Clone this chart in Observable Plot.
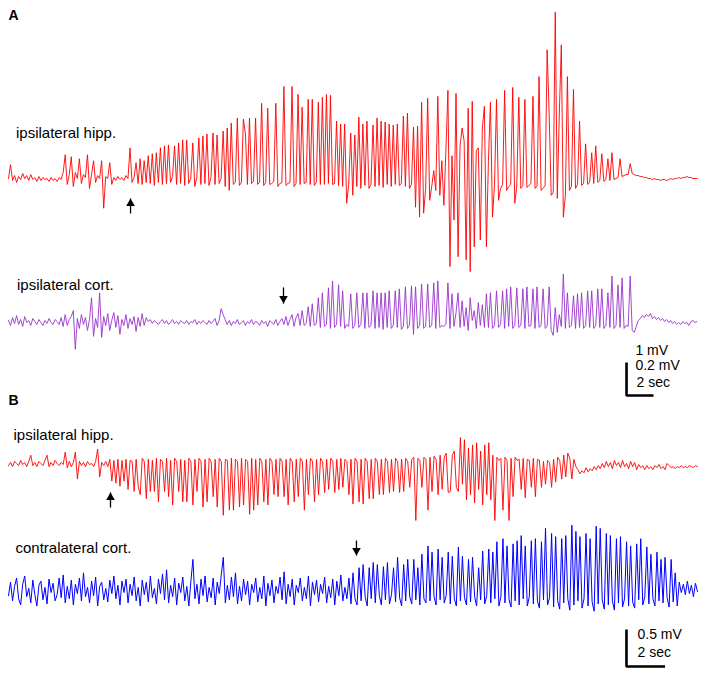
<!DOCTYPE html>
<html><head><meta charset="utf-8">
<script src="https://cdn.jsdelivr.net/npm/d3@7"></script>
<script src="https://cdn.jsdelivr.net/npm/@observablehq/plot@0.6"></script>
<style>
body{margin:0;background:#fff;}
#wrap{position:relative;width:708px;height:677px;}
#wrap svg{position:absolute;left:0;}
</style></head><body><div id="wrap"></div>
<script>
// Sampling intervals (s)
const dtA = 0.15, dtB = 0.105;

// Panel A, ipsilateral hippocampus (µV)
const hippA = [60,480,0,150,-60,120,30,210,60,150,0,180,30,90,-30,120,0,90,30,60,-30,90,0,60,-30,90,30,240,780,-120,180,720,-180,240,60,660,-90,180,90,780,-240,180,600,-60,150,60,600,-840,120,60,540,-120,90,0,120,30,90,0,150,60,990,
-60,90,540,-90,660,-120,600,-60,750,-90,810,-150,840,-60,990,-120,1050,-90,1080,-60,120,1050,-120,1140,-90,1230,-150,1230,-90,60,1140,-180,90,1290,-120,1350,-90,1410,-150,90,1440,-120,1380,-90,60,1500,-180,1590,-300,
1740,-120,-60,1890,-150,-60,1860,1410,-120,1890,-90,-30,1890,-120,-60,2340,-150,-60,2190,-120,-90,-30,2340,-180,-90,-60,2850,-150,-90,-60,2850,-180,-90,2610,-120,2220,-90,-60,2460,-120,2460,-150,-60,2370,-120,2520,-120,2610,-90,2580,-120,-90,1800,-150,1710,-180,1710,-690,-120,1440,-450,1380,-180,1920,-240,1710,-150,1800,-240,-120,1680,-180,1890,-150,1800,-210,1770,-120,1710,-180,1680,-120,1710,-150,-90,1950,-180,2040,-240,-120,1620,-810,1650,-1110,2370,-990,-240,2490,-600,-180,300,-300,2550,-450,600,-750,900,2730,-2610,750,-1200,2640,-2310,1050,1590,1200,-2400,2190,-2760,2400,-2010,
900,990,-1800,1590,2250,-2010,600,2370,-1110,-150,2460,-600,-240,-120,2730,-300,-180,-120,2820,-690,-180,2520,-240,-150,2460,-210,-150,-90,2550,-240,-180,3150,-300,-240,-150,3960,2010,-450,-360,5100,-540,2010,4110,-1110,-450,3150,-300,-180,2760,-240,-120,1800,-150,-90,1110,-120,-60,840,-90,1050,-60,0,810,-30,30,660,0,840,30,60,90,660,120,150,180,180,510,210,180,150,150,120,120,90,90,60,60,30,60,30,30,0,30,30,0,30,60,30,60,60,90,60,90,90,120,90,90,60,60,60];

// Panel A, ipsilateral cortex (µV)
const cortA = [12,-18,30,-6,42,-12,18,-24,36,0,12,-18,24,6,-12,18,0,-18,12,-6,24,0,-12,18,6,-12,30,-24,48,-18,
18,36,72,-162,24,-36,48,-12,30,-48,18,150,-84,24,-30,180,-90,36,-18,54,-48,12,60,-30,42,-72,18,-18,48,-36,
24,-12,36,-54,30,-24,54,-18,30,6,18,-6,12,0,-12,6,18,-6,12,-12,0,18,-6,6,-12,12,0,-6,12,-12,
6,0,18,-12,6,-6,12,0,-12,12,-6,6,24,-18,12,84,48,18,-12,12,-18,6,-6,18,-12,0,12,-18,6,-6,
18,-12,6,0,-18,12,-6,6,-24,12,0,-12,18,-18,6,24,-12,36,-18,18,48,-24,30,54,-18,72,-18,-6,96,-24,
114,-18,-6,150,-30,180,-24,-12,210,-36,252,-30,-12,228,-24,192,-36,-12,-24,174,-36,-18,180,-30,-12,180,-36,180,-30,-18,
192,-36,180,-30,180,-42,180,-30,192,-36,-18,192,-30,204,-42,-24,216,-36,-18,222,-72,216,-36,-18,234,-36,-24,234,-30,-18,
240,-36,252,-30,-18,-24,-12,240,-36,174,-24,60,180,-30,132,-24,90,-48,150,12,72,-36,120,-18,108,-30,174,-30,180,-36,
-18,192,-30,-12,192,-36,204,-24,216,-36,-18,210,-30,-18,204,-36,216,-24,-18,204,-36,216,-30,-18,204,-36,-24,216,-48,-78,
90,-60,48,-24,294,-36,180,-30,-18,162,-36,174,-30,180,-36,-18,192,-30,192,-36,-18,204,-30,204,-36,-18,180,-30,282,-36,
-18,228,-30,270,-36,-18,-24,282,-48,-60,-24,12,24,42,30,48,36,54,24,36,18,30,12,24,6,18,0,12,-6,6,-12,0,-12,6,-6,0,-18,6,12,0,6];

// Panel B, ipsilateral hippocampus (µV)
const hippB = [-28,14,-42,28,0,-28,42,-14,14,-42,28,112,-28,14,-42,28,0,-28,42,112,-42,14,-28,42,0,-28,14,-14,154,-56,
28,-42,14,154,-210,28,-28,14,-42,28,-14,0,-42,28,196,-182,14,-28,28,-42,56,-238,42,-266,56,-308,42,-238,56,-350,
42,28,-378,56,-308,-420,70,28,-476,56,-378,42,-378,70,-518,56,28,-378,70,-448,42,-560,70,28,-378,56,-518,42,-518,70,
28,-560,56,-378,70,28,-588,56,-518,70,28,-448,56,-588,70,28,-700,56,42,-630,70,-630,56,28,-588,70,-560,56,28,-686,
70,-630,56,-560,70,28,-518,56,-560,70,28,-420,56,-448,70,28,-448,56,-560,70,28,-518,56,-448,70,28,-630,56,-420,70,
28,-518,56,-420,70,28,-392,56,-350,70,28,-392,56,-350,70,-322,56,28,-420,56,-546,70,28,-518,56,-546,70,28,-476,56,
-476,70,28,-420,56,-420,70,28,-392,56,-378,70,28,-392,56,-378,70,28,-322,56,84,-770,70,42,-322,84,56,-630,84,-378,
98,56,-420,112,-350,84,140,-392,-378,112,168,-322,-378,350,-280,322,-490,210,-420,252,-532,280,-350,168,-560,252,-420,280,-490,112,
-770,84,42,70,-630,84,42,-770,70,-448,84,42,56,-350,70,-462,56,42,-322,70,-448,56,42,-322,28,-280,42,14,-322,56,
-252,84,42,-210,112,-182,140,70,-210,56,-42,-84,-140,-98,-126,-56,-112,-70,-98,-42,-84,-28,-70,0,-56,28,-42,14,-70,42,
-28,14,-56,42,-42,0,-70,28,-42,14,-84,-14,-56,-28,-84,-28,-70,-42,-84,-28,-56,-14,-70,-42,-84,0,-28,-56,-42,-70,-42,-56,-28,-56,-42,-56,-28,-42,-56,-28,-42];

// Panel B, contralateral cortex (µV)
const cortB = [-70,112,-140,56,168,-112,-196,84,196,-84,28,-168,140,-56,-210,70,126,-126,42,-182,154,-28,98,-140,-56,168,-98,210,-168,56,
-112,140,-196,84,-42,168,-140,238,-84,42,-168,126,-70,182,-210,56,112,-126,28,-154,140,-42,196,-112,70,-196,126,-28,154,-168,
84,-70,182,-140,42,-210,140,-56,112,-154,196,-98,28,-182,154,-42,224,-126,280,-168,70,-84,168,-196,98,-28,182,-140,56,-210,
126,420,-112,84,-182,154,-70,196,-154,42,-98,168,-196,112,-42,210,448,-168,70,-126,182,-84,238,-182,56,-140,154,-56,126,-196,
84,-28,168,-154,42,-112,196,-210,98,-70,140,-168,56,-42,182,-126,252,-182,84,-84,154,-196,70,-28,168,-140,42,-112,196,-210,
112,-56,140,-154,84,-42,182,-168,56,-98,154,-196,126,-70,210,-140,42,-112,168,-182,238,-112,-196,308,-140,350,-84,-210,308,-112,
378,-168,350,-70,-196,322,-126,378,-182,-56,308,-154,448,-98,-210,350,-140,420,-84,-182,420,-126,308,-196,490,-112,-168,602,-140,518,
-84,-196,560,-126,448,-168,-70,518,-182,462,-112,-210,588,-140,462,-98,-196,420,-154,448,-84,-210,308,-126,532,-182,-70,560,-168,518,
-112,658,-210,-84,700,-168,602,-126,-224,630,-140,672,-196,742,-112,602,-210,-84,672,-182,700,-140,-238,658,-126,840,-196,-98,770,-224,
728,-140,-252,700,-168,742,-112,-266,882,-196,798,-140,728,-238,-112,770,-210,700,-154,-280,868,-182,840,-126,-252,770,-196,742,-140,-266,
700,-168,728,-224,-112,658,-210,602,-154,-238,630,-126,700,-196,-84,588,-182,490,-112,-210,518,-140,420,-168,448,-98,-224,420,-154,238,
-210,112,-28,84,-56,126,-42,70,-84,98,-14];

// Scale bars
const barA = {mV: 1, mVcort: 0.2, sec: 2};
const barB = {mV: 0.5, sec: 2};

// Layout (in each panel's own units: seconds and display mV)
const layA = {hipp: 0, cort: -4.303, cortGain: 1 / barA.mVcort, barT: 45.78, barY: -6.515};
const layB = {hipp: 0, cort: -1.716, barT: 32.02, barY: -2.743};

const font = "'Liberation Sans', Arial, Helvetica, sans-serif";
const series = (arr, dt, offset, gain) => arr.map((v, i) => ({t: i * dt, y: offset + (v / 1000) * gain}));

const arrowMarks = (arrows) => [
  Plot.link(arrows, {x1: "t", x2: "t", y1: "tail", y2: "tip", stroke: "black", strokeWidth: 1.3}),
  Plot.dot(arrows.filter(a => a.dir === "up"), {x: "t", y: "tip", symbol: "triangle", r: 3.2, fill: "black", stroke: "none", dy: 5}),
  Plot.dot(arrows.filter(a => a.dir === "down"), {x: "t", y: "tip", symbol: "triangle", r: 3.2, fill: "black", stroke: "none", dy: -5, rotate: 180})
];

const barLine = (t, y, v, sec) => [{t: t, y: y + v}, {t: t, y: y}, {t: t + sec, y: y}];

// ---------- Panel A ----------
const labelsA = [
  {t: 0.0, y: 4.985, text: "A", size: 14, weight: "bold"},
  {t: 0.556, y: 1.448, text: "ipsilateral hipp.", size: 15, weight: "normal"},
  {t: 0.63, y: -3.158, text: "ipsilateral cort.", size: 15, weight: "normal"},
  {t: 46.44, y: -5.15, text: "1 mV", size: 14, weight: "normal"},
  {t: 46.44, y: -5.62, text: "0.2 mV", size: 14, weight: "normal"},
  {t: 46.52, y: -6.12, text: "2 sec", size: 14, weight: "normal"}
];
const arrowsA = [
  {t: 9.04, tail: -1.0, tip: -0.545, dir: "up"},
  {t: 20.37, tail: -3.24, tip: -3.73, dir: "down"}
];

const plotA = Plot.plot({
  width: 708, height: 400, margin: 0,
  style: {background: "transparent", overflow: "visible", fontFamily: font},
  x: {domain: [0, 51], range: [8, 696.5], axis: null},
  y: {domain: [-220 / 33, 180 / 33], axis: null},
  marks: [
    Plot.line(series(hippA, dtA, layA.hipp, 1 / barA.mV), {x: "t", y: "y", stroke: "#ff0000", strokeWidth: 0.9}),
    Plot.line(series(cortA, dtA, layA.cort, layA.cortGain), {x: "t", y: "y", stroke: "#9933cc", strokeWidth: 0.9}),
    Plot.line(barLine(layA.barT, layA.barY, 1, barA.sec), {x: "t", y: "y", stroke: "black", strokeWidth: 2.6, strokeLinejoin: "miter", strokeLinecap: "butt"}),
    ...arrowMarks(arrowsA),
    ...labelsA.map(l => Plot.text([l], {x: "t", y: "y", text: "text", textAnchor: "start", fontSize: l.size, fontWeight: l.weight, fill: "black"}))
  ]
});
plotA.style.top = "0px";

// ---------- Panel B ----------
const labelsB = [
  {t: 0.0, y: 0.845, text: "B", size: 14, weight: "bold"},
  {t: 0.26, y: 0.376, text: "ipsilateral hipp.", size: 15, weight: "normal"},
  {t: 0.363, y: -1.151, text: "contralateral cort.", size: 15, weight: "normal"},
  {t: 32.59, y: -2.311, text: "0.5 mV", size: 14, weight: "normal"},
  {t: 32.59, y: -2.554, text: "2 sec", size: 14, weight: "normal"}
];
const arrowsB = [
  {t: 5.285, tail: -0.595, tip: -0.392, dir: "up"},
  {t: 18.03, tail: -1.041, tip: -1.243, dir: "down"}
];

const plotB = Plot.plot({
  width: 708, height: 287, margin: 0,
  style: {background: "transparent", overflow: "visible", fontFamily: font},
  x: {domain: [0, 35.7], range: [8, 697], axis: null},
  y: {domain: [-214 / 74, 73 / 74], axis: null},
  marks: [
    Plot.line(series(hippB, dtB, layB.hipp, 1), {x: "t", y: "y", stroke: "#ff0000", strokeWidth: 0.9}),
    Plot.line(series(cortB, dtB, layB.cort, 1), {x: "t", y: "y", stroke: "#0000ff", strokeWidth: 1.0}),
    Plot.line(barLine(layB.barT, layB.barY, barB.mV, barB.sec), {x: "t", y: "y", stroke: "black", strokeWidth: 2.6, strokeLinejoin: "miter", strokeLinecap: "butt"}),
    ...arrowMarks(arrowsB),
    ...labelsB.map(l => Plot.text([l], {x: "t", y: "y", text: "text", textAnchor: "start", fontSize: l.size, fontWeight: l.weight, fill: "black"}))
  ]
});
plotB.style.top = "390px";

const wrap = document.getElementById("wrap");
wrap.appendChild(plotA);
wrap.appendChild(plotB);
</script></body></html>
